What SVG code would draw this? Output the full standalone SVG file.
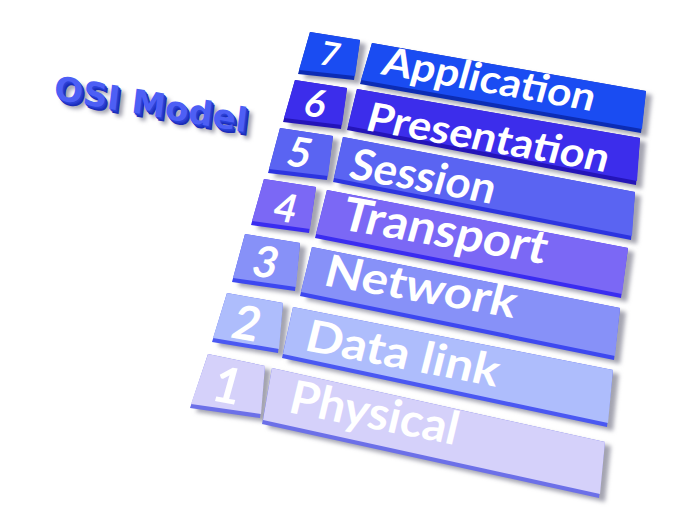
<svg xmlns="http://www.w3.org/2000/svg" width="700" height="525" viewBox="0 0 700 525">
<defs>
<filter id="blur" x="-20%" y="-20%" width="140%" height="160%"><feGaussianBlur stdDeviation="2"/></filter>
</defs>
<style>
.shadow{fill:#a4a4b0;filter:url(#blur)}
.lbl{font-family:Lato,"Open Sans","Liberation Sans",sans-serif;font-weight:700;fill:#ffffff}
.num{font-family:Lato,"Open Sans","Liberation Sans",sans-serif;font-weight:700;fill:#ffffff;text-anchor:middle}
.title{font-family:"DejaVu Sans","Liberation Sans",sans-serif;font-weight:700}
.f7{fill:#1a4cf2}.e7{fill:#0c2cb4}
.f6{fill:#3c2deb}.e6{fill:#2414b8}
.f5{fill:#5a64f2}.e5{fill:#2c34e0}
.f4{fill:#7b68f5}.e4{fill:#3a2cf0}
.f3{fill:#8791f8}.e3{fill:#3d48f0}
.f2{fill:#aebdfc}.e2{fill:#4a58f2}
.f1{fill:#d5d1fa}.e1{fill:#6c70e8}
</style>
<rect width="700" height="525" fill="#ffffff"/>

<g id="shadows" transform="translate(6,4)">
<polygon class="shadow" points="310,32 360,40 354,80 298,74"/>
<polygon class="shadow" points="372,43 646,91 641,133 360,84"/>
<polygon class="shadow" points="295,80 347,88 341,129 283,122"/>
<polygon class="shadow" points="357,89 640,138 636,185 347,130"/>
<polygon class="shadow" points="280,128 333,136 327,180 268,173"/>
<polygon class="shadow" points="343,137 635,192 631,240 333,182"/>
<polygon class="shadow" points="264,179 316,187 309,233 251,225"/>
<polygon class="shadow" points="327,190 628,248 621,298 315,238"/>
<polygon class="shadow" points="245,234 300,243 295,291 232,282"/>
<polygon class="shadow" points="312,247 620,308 614,360 300,296"/>
<polygon class="shadow" points="227,293 283,303 278,353 212,342"/>
<polygon class="shadow" points="293,307 613,370 607,427 282,358"/>
<polygon class="shadow" points="208,354 265,366 260,418 190,408"/>
<polygon class="shadow" points="272,368 605,442 599,498 262,424"/>
</g>

<g id="layer7">
<polygon class="e7" points="310,32 360,40 354,80 298,74"/>
<polygon class="f7" points="310,32 360,40 355,76 299,70"/>
<polygon class="e7" points="372,43 646,91 641,133 360,84"/>
<polygon class="f7" points="372,43 646,91 642,129 361,80"/>
<text class="num" font-size="32" transform="matrix(0.985 0.16 -0.28 1 326.8 65.5)">7</text>
<text class="lbl" font-size="38" textLength="215" lengthAdjust="spacingAndGlyphs" transform="matrix(0.985 0.173 -0.28 1 380 74)">Application</text>
</g>

<g id="layer6">
<polygon class="e6" points="295,80 347,88 341,129 283,122"/>
<polygon class="f6" points="295,80 347,88 342,125 284,118"/>
<polygon class="e6" points="357,89 640,138 636,185 347,130"/>
<polygon class="f6" points="357,89 640,138 637,181 348,126"/>
<text class="num" font-size="37" transform="matrix(0.985 0.16 -0.28 1 312.2 116.5)">6</text>
<text class="lbl" font-size="39" textLength="245" lengthAdjust="spacingAndGlyphs" transform="matrix(0.985 0.172 -0.28 1 364 130)">Presentation</text>
</g>

<g id="layer5">
<polygon class="e5" points="280,128 333,136 327,180 268,173"/>
<polygon class="f5" points="280,128 333,136 328,176 269,169"/>
<polygon class="e5" points="343,137 635,192 631,240 333,182"/>
<polygon class="f5" points="343,137 635,192 632,236 334,178"/>
<text class="num" font-size="40" transform="matrix(0.985 0.16 -0.28 1 296 166.5)">5</text>
<text class="lbl" font-size="42" textLength="147" lengthAdjust="spacingAndGlyphs" transform="matrix(0.984 0.175 -0.28 1 347 178)">Session</text>
</g>

<g id="layer4">
<polygon class="e4" points="264,179 316,187 309,233 251,225"/>
<polygon class="f4" points="264,179 316,187 310,229 252,221"/>
<polygon class="e4" points="327,190 628,248 621,298 315,238"/>
<polygon class="f4" points="327,190 628,248 622,294 316,234"/>
<text class="num" font-size="38" transform="matrix(0.985 0.16 -0.28 1 282.2 221.5)">4</text>
<text class="lbl" font-size="45" textLength="207" lengthAdjust="spacingAndGlyphs" transform="matrix(0.985 0.168 -0.28 1 339 229)">Transport</text>
</g>

<g id="layer3">
<polygon class="e3" points="245,234 300,243 295,291 232,282"/>
<polygon class="f3" points="245,234 300,243 296,287 233,278"/>
<polygon class="e3" points="312,247 620,308 614,360 300,296"/>
<polygon class="f3" points="312,247 620,308 615,356 301,292"/>
<text class="num" font-size="42" transform="matrix(0.985 0.16 -0.28 1 261.8 277)">3</text>
<text class="lbl" font-size="43" textLength="194" lengthAdjust="spacingAndGlyphs" transform="matrix(0.985 0.170 -0.26 1 322 285)">Network</text>
</g>

<g id="layer2">
<polygon class="e2" points="227,293 283,303 278,353 212,342"/>
<polygon class="f2" points="227,293 283,303 279,349 213,338"/>
<polygon class="e2" points="293,307 613,370 607,427 282,358"/>
<polygon class="f2" points="293,307 613,370 608,423 283,354"/>
<text class="num" font-size="46" transform="matrix(0.985 0.17 -0.28 1 242.4 339.5)">2</text>
<text class="lbl" font-size="43" textLength="196" lengthAdjust="spacingAndGlyphs" transform="matrix(0.983 0.187 -0.25 1 303 350)">Data link</text>
</g>

<g id="layer1">
<polygon class="e1" points="208,354 265,366 260,418 190,408"/>
<polygon class="f1" points="208,354 265,366 261,414 191,404"/>
<polygon class="e1" points="272,368 605,442 599,498 262,424"/>
<polygon class="f1" points="272,368 605,442 600,494 263,420"/>
<text class="num" font-size="48" transform="matrix(0.985 0.18 -0.28 1 223.1 402.5)">1</text>
<text class="lbl" font-size="45" textLength="171" lengthAdjust="spacingAndGlyphs" transform="matrix(0.981 0.193 -0.24 1 287 412)">Physical</text>
</g>

<g id="title">
<text class="title" font-size="33" textLength="196" lengthAdjust="spacingAndGlyphs" fill="#9a9aa8" filter="url(#blur)" transform="matrix(0.985 0.17 -0.12 1 59 106)">OSI Model</text>
<text class="title" font-size="33" textLength="196" lengthAdjust="spacingAndGlyphs" fill="#1a2cb8" transform="matrix(0.985 0.17 -0.12 1 56 103)">OSI Model</text>
<text class="title" font-size="33" textLength="196" lengthAdjust="spacingAndGlyphs" fill="#2236c8" transform="matrix(0.985 0.17 -0.12 1 55 101.5)">OSI Model</text>
<text class="title" font-size="33" textLength="196" lengthAdjust="spacingAndGlyphs" fill="#2a40d6" transform="matrix(0.985 0.17 -0.12 1 54 100.5)">OSI Model</text>
<text class="title" font-size="33" textLength="196" lengthAdjust="spacingAndGlyphs" fill="#4d5ff5" transform="matrix(0.985 0.17 -0.12 1 53 99)">OSI Model</text>
</g>
</svg>
